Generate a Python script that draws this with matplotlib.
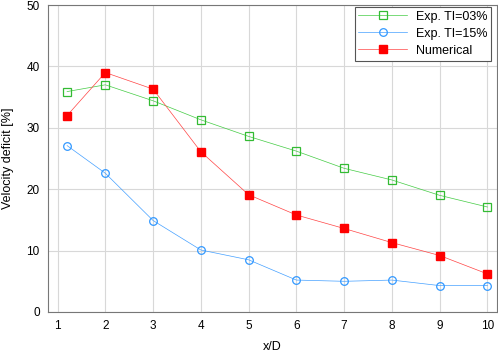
import matplotlib.pyplot as plt
import numpy as np

plt.rcParams['font.family'] = ['Liberation Sans', 'DejaVu Sans']

# data
xd = [1.2, 2, 3, 4, 5, 6, 7, 8, 9, 10]
exp_ti03 = [35.9, 37.0, 34.4, 31.3, 28.6, 26.2, 23.4, 21.5, 19.0, 17.1]
exp_ti15 = [27.1, 22.6, 14.9, 10.1, 8.5, 5.2, 5.0, 5.2, 4.3, 4.3]
numerical = [32.0, 39.0, 36.3, 26.1, 19.1, 15.8, 13.6, 11.3, 9.2, 6.2]

fig = plt.figure(figsize=(4.98, 3.52), dpi=100)
ax = fig.add_axes([48/498, 40/352, 449/498, 307/352])

ax.plot(xd, exp_ti03, color='#44cc44', lw=0.5, marker='s', ms=5.5,
        mfc='none', mec='#33bb33', mew=0.9, label='Exp. TI=03%')
ax.plot(xd, exp_ti15, color='#44a0ff', lw=0.5, marker='o', ms=5.5,
        mfc='none', mec='#3399ff', mew=0.9, label='Exp. TI=15%')
ax.plot(xd, numerical, color='#ff4444', lw=0.5, marker='s', ms=5.5,
        mfc='#ff0000', mec='#ff0000', label='Numerical')

ax.set_xlim(0.8, 10.2)
ax.set_ylim(0, 50)
ax.set_xticks(np.arange(1, 11))
ax.set_yticks(np.arange(0, 51, 10))
ax.grid(True, color='#d8d8d8', lw=0.8)
ax.set_axisbelow(True)
for s in ax.spines.values():
    s.set_color('#777777')
    s.set_linewidth(0.8)
ax.tick_params(labelsize=8.5, length=0, pad=6)

ax.set_xlabel('x/D', fontsize=9, labelpad=6)
ax.set_ylabel('Velocity deficit [%]', fontsize=9, labelpad=9)

leg = ax.legend(loc='upper right', fontsize=9, fancybox=False,
                edgecolor='#555555', framealpha=1,
                bbox_to_anchor=(491/498, 1 - 7/352), bbox_transform=fig.transFigure,
                borderaxespad=0, handlelength=3.9, handletextpad=0.7,
                labelspacing=0.4, borderpad=0.3)
leg.get_frame().set_linewidth(0.8)

fig.savefig('out.png', dpi=100)
